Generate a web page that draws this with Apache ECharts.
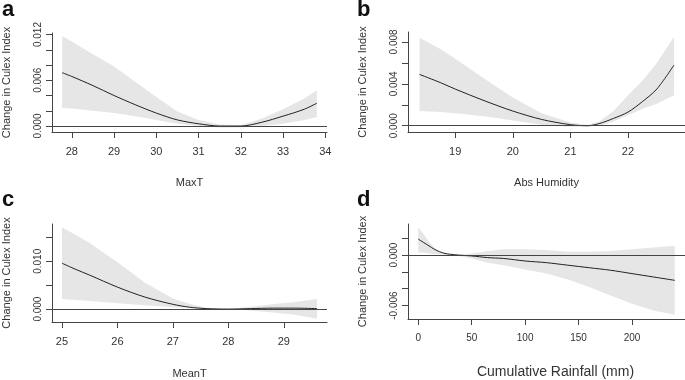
<!DOCTYPE html>
<html>
<head>
<meta charset="utf-8">
<script src="https://cdn.jsdelivr.net/npm/echarts@6/dist/echarts.min.js"></script>
<style>
html, body { margin: 0; padding: 0; background: #fff; }
#main { width: 685px; height: 380px; }
</style>
</head>
<body>
<div id="main"></div>
<script>
// a - MaxT
var maxtX   = [27.77, 28.0, 28.5, 29.0, 29.5, 30.0, 30.5, 31.0, 31.5, 32.0, 32.5, 33.0, 33.5, 33.8];
var maxtFit = [0.0070, 0.0065, 0.0053, 0.0040, 0.0028, 0.0017, 0.0008, 0.0003, 0.0000, 0.0000, 0.0005, 0.0013, 0.0022, 0.0030];
var maxtLow = [0.0024, 0.0023, 0.0020, 0.0017, 0.0013, 0.0008, 0.0003, 0.0000, -0.0002, -0.0002, 0.0000, 0.0003, 0.0008, 0.0012];
var maxtUp  = [0.0118, 0.0111, 0.0094, 0.0078, 0.0058, 0.0038, 0.0019, 0.0008, 0.0002, 0.0001, 0.0010, 0.0022, 0.0036, 0.0047];

// b - Abs Humidity
var humX   = [18.38, 18.75, 19.0, 19.5, 20.0, 20.5, 21.0, 21.3, 21.5, 21.75, 22.0, 22.25, 22.5, 22.8];
var humFit = [0.0049, 0.0041, 0.0035, 0.0024, 0.0014, 0.0006, 0.0001, 0.0000, 0.0002, 0.0007, 0.0013, 0.0023, 0.0035, 0.0058];
var humLow = [0.0014, 0.0013, 0.0012, 0.0009, 0.0005, 0.0001, -0.0001, -0.0001, 0.0000, 0.0004, 0.0010, 0.0016, 0.0021, 0.0029];
var humUp  = [0.0084, 0.0073, 0.0064, 0.0045, 0.0027, 0.0012, 0.0003, 0.0001, 0.0004, 0.0014, 0.0029, 0.0043, 0.0060, 0.0085];

// c - MeanT
var meantX   = [25.0, 25.25, 25.5, 26.0, 26.5, 27.0, 27.3, 27.6, 28.0, 28.4, 28.8, 29.2, 29.6];
var meantFit = [0.0096, 0.0083, 0.0071, 0.0046, 0.0025, 0.0010, 0.0004, 0.0001, 0.0000, 0.0001, 0.0002, 0.0002, 0.0001];
var meantLow = [0.0021, 0.0019, 0.0017, 0.0012, 0.0008, 0.0004, 0.0002, 0.0000, 0.0000, -0.0003, -0.0007, -0.0012, -0.0020];
var meantUp  = [0.0171, 0.0155, 0.0138, 0.0098, 0.0055, 0.0022, 0.0011, 0.0003, 0.0000, 0.0005, 0.0010, 0.0015, 0.0021];

// d - Cumulative Rainfall
var rainX   = [0, 5, 10, 15, 20, 25, 30, 38, 50, 65, 80, 100, 120, 140, 160, 180, 200, 220, 240];
var rainFit = [0.0019, 0.0015, 0.0011, 0.0007, 0.0004, 0.0002, 0.0001, 0.0000, -0.0001, -0.0003, -0.0004, -0.0007, -0.0009, -0.0012, -0.0015, -0.0018, -0.0022, -0.0026, -0.0030];
var rainLow = [0.0003, 0.0003, 0.0002, 0.0001, 0.0001, 0.0000, 0.0000, -0.0001, -0.0004, -0.0009, -0.0012, -0.0017, -0.0022, -0.0029, -0.0038, -0.0048, -0.0058, -0.0066, -0.0071];
var rainUp  = [0.0033, 0.0025, 0.0016, 0.0009, 0.0004, 0.0002, 0.0001, 0.0000, 0.0002, 0.0005, 0.0007, 0.0007, 0.0006, 0.0004, 0.0004, 0.0005, 0.0007, 0.0009, 0.0011];

// tick marks and labels
var maxtTicks  = [28, 29, 30, 31, 32, 33, 34];
var humTicks   = [19, 20, 21, 22];
var meantTicks = [25, 26, 27, 28, 29];
var rainTicks  = [0, 50, 100, 150, 200];
var maxtYTicks  = [0, 0.002, 0.004, 0.006, 0.008, 0.010, 0.012];
var maxtYLabels = [0, 0.006, 0.012];
var humYTicks   = [0, 0.002, 0.004, 0.006, 0.008];
var humYLabels  = [0, 0.004, 0.008];
var meantYTicks  = [0, 0.005, 0.010, 0.015];
var meantYLabels = [0, 0.010];
var rainYTicks  = [-0.006, -0.004, -0.002, 0, 0.002];
var rainYLabels = [-0.006, 0];

var panels = [
	{letter: 'a', name: 'MaxT', x: maxtX, fit: maxtFit, low: maxtLow, up: maxtUp,
	 xt: maxtTicks, yt: maxtYTicks, yl: maxtYLabels, xmin: 27.53, xmax: 34.04, ymin: -0.00078, ymax: 0.0122,
	 grid: {left: 52, top: 33, width: 275, height: 99}, nameSize: 11, tickSize: 11, nameGap: 45, namePad: 0},
	{letter: 'b', name: 'Abs Humidity', x: humX, fit: humFit, low: humLow, up: humUp,
	 xt: humTicks, yt: humYTicks, yl: humYLabels, xmin: 18.18, xmax: 22.99, ymin: -0.0006, ymax: 0.00895,
	 grid: {left: 408, top: 32, width: 277, height: 100}, nameSize: 11, tickSize: 11, nameGap: 45, namePad: 0},
	{letter: 'c', name: 'MeanT', x: meantX, fit: meantFit, low: meantLow, up: meantUp,
	 xt: meantTicks, yt: meantYTicks, yl: meantYLabels, xmin: 24.82, xmax: 29.78, ymin: -0.0027, ymax: 0.0178,
	 grid: {left: 52, top: 224, width: 275, height: 102}, nameSize: 11, tickSize: 11, nameGap: 46, namePad: 0},
	{letter: 'd', name: 'Cumulative Rainfall (mm)', x: rainX, fit: rainFit, low: rainLow, up: rainUp,
	 xt: rainTicks, yt: rainYTicks, yl: rainYLabels, xmin: -9.6, xmax: 249.6, ymin: -0.0076, ymax: 0.0037,
	 grid: {left: 408, top: 224, width: 277, height: 102}, nameSize: 14, tickSize: 10, nameGap: 46, namePad: 18}
];

var axisCol = '#444';
var textCol = '#333';
var fontFam = 'Liberation Sans, Arial, sans-serif';

var grids = [], xAxes = [], yAxes = [], series = [], titles = [];
var letterPos = [{left: 2, top: -1}, {left: 357, top: -1}, {left: 2, top: 189}, {left: 357, top: 189}];

panels.forEach(function (p, i) {
	grids.push(p.grid);
	titles.push({
		text: p.letter, left: letterPos[i].left, top: letterPos[i].top, padding: 0,
		textStyle: {fontSize: 22, fontWeight: 'bold', color: '#111', fontFamily: fontFam}
	});
	xAxes.push({
		type: 'value', gridIndex: i, min: p.xmin, max: p.xmax,
		name: p.name, nameLocation: 'middle', nameGap: p.nameGap,
		nameTextStyle: {fontSize: p.nameSize, color: textCol, fontFamily: fontFam, padding: [0, 0, 0, p.namePad]},
		axisLine: {onZero: false, lineStyle: {color: axisCol, width: 1}},
		axisTick: {customValues: p.xt, length: 6, lineStyle: {color: axisCol}},
		axisLabel: {customValues: p.xt, margin: 14, fontSize: p.tickSize, color: textCol, fontFamily: fontFam},
		splitLine: {show: false}
	});
	yAxes.push({
		type: 'value', gridIndex: i, min: p.ymin, max: p.ymax,
		name: 'Change in Culex Index', nameLocation: 'middle', nameGap: 40,
		nameTextStyle: {fontSize: 11, color: textCol, fontFamily: fontFam},
		axisLine: {show: true, onZero: false, lineStyle: {color: axisCol, width: 1}},
		axisTick: {show: true, customValues: p.yt, length: 6, lineStyle: {color: axisCol}},
		axisLabel: {
			customValues: p.yl, rotate: 90, margin: 9, fontSize: 10, color: textCol, fontFamily: fontFam,
			formatter: function (v) { return v.toFixed(3); }
		},
		splitLine: {show: false}
	});

	// confidence band: one polygon, upper edge then lower edge back
	var bandData = [], fitData = [];
	for (var k = 0; k < p.x.length; k++) {
		bandData.push([p.x[k], p.low[k], p.up[k]]);
		fitData.push([p.x[k], p.fit[k]]);
	}
	series.push({
		type: 'custom', xAxisIndex: i, yAxisIndex: i, data: bandData, silent: true,
		encode: {x: 0, y: [1, 2]},
		renderItem: function (params, api) {
			if (params.dataIndex !== 0) return null;
			var pts = [];
			for (var j = 0; j < p.x.length; j++) pts.push(api.coord([p.x[j], p.up[j]]));
			for (var j = p.x.length - 1; j >= 0; j--) pts.push(api.coord([p.x[j], p.low[j]]));
			return {
				type: 'polygon',
				shape: {points: pts},
				style: {fill: '#e6e6e6', stroke: null}
			};
		}
	});
	series.push({
		type: 'line', xAxisIndex: i, yAxisIndex: i, data: fitData, symbol: 'none', smooth: 0.3,
		lineStyle: {color: '#222', width: 1}, z: 3,
		markLine: {
			silent: true, symbol: 'none', label: {show: false},
			lineStyle: {color: axisCol, width: 1, type: 'solid'},
			data: [{yAxis: 0}]
		}
	});
});

var myChart = echarts.init(document.getElementById('main'));
myChart.setOption({
	animation: false,
	title: titles,
	grid: grids,
	xAxis: xAxes,
	yAxis: yAxes,
	series: series
});
</script>
</body>
</html>
